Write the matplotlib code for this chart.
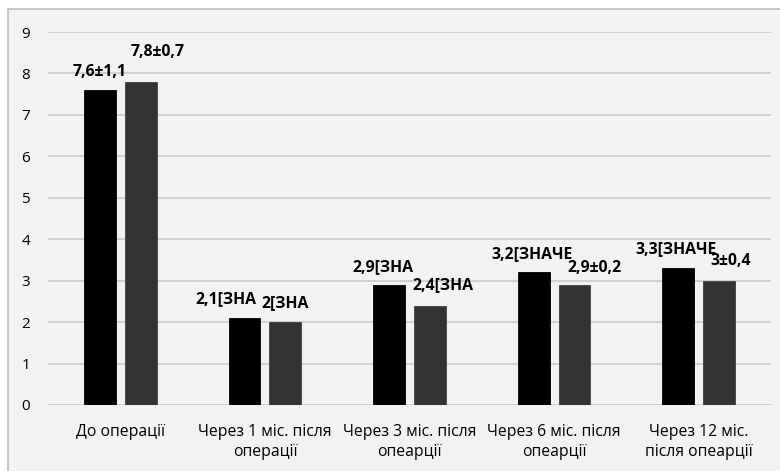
import matplotlib
matplotlib.use("Agg")
import matplotlib.pyplot as plt
import numpy as np
from matplotlib.patches import Rectangle

categories = [
    "До операції",
    "Через 1 міс. після\nоперації",
    "Через 3 міс. після\nопеарції",
    "Через 6 міс. після\nопеарції",
    "Через 12 міс.\nпісля опеарції",
]
series_a = [7.6, 2.1, 2.9, 3.2, 3.3]
series_b = [7.8, 2.0, 2.4, 2.9, 3.0]
labels_a = ["7,6±1,1", "2,1[ЗНА", "2,9[ЗНА", "3,2[ЗНАЧЕ", "3,3[ЗНАЧЕ"]
labels_b = ["7,8±0,7", "2[ЗНА", "2,4[ЗНА", "2,9±0,2", "3±0,4"]
yticks = list(range(0, 10))

# label nudges in pixels (dx, dy above bar top)
offsets_a = [(-0.5, 18), (-18.5, 19), (-6, 18), (-2, 18), (-2.5, 19)]
offsets_b = [(17, 30), (0, 19), (13, 20), (20, 17), (12, 20)]

plt.rcParams["font.family"] = ["Open Sans", "DejaVu Sans"]

bg = "#f2f2f2"
fig = plt.figure(figsize=(7.8, 4.71), dpi=100, facecolor="white")
fig.patches.append(Rectangle((8 / 780, -0.1), 1.2, 1 - 9 / 471 + 0.1,
                             transform=fig.transFigure, facecolor=bg,
                             edgecolor="#bfbfbf", linewidth=1.2, zorder=-10))

ax = fig.add_axes([48 / 780, 1 - 405 / 471, (771 - 48) / 780, (405 - 32) / 471])
ax.set_facecolor(bg)

x = np.arange(len(categories))
w = 0.22
d = 0.141
bars_a = ax.bar(x - d, series_a, w, color="#000000", edgecolor="#000000",
                linewidth=0.6, zorder=3)
bars_b = ax.bar(x + d, series_b, w, color="#333333", edgecolor="#404040",
                linewidth=0.6, zorder=3)

for bars, labels, offs in ((bars_a, labels_a, offsets_a), (bars_b, labels_b, offsets_b)):
    for b, lab, (dx, dy) in zip(bars, labels, offs):
        ax.annotate(lab, (b.get_x() + b.get_width() / 2, b.get_height()),
                    xytext=(dx, dy), textcoords="offset pixels",
                    ha="center", va="center", fontsize=11.3,
                    fontweight="bold", color="black", zorder=5)

ax.set_xlim(-0.5, len(categories) - 0.5)
ax.set_ylim(0, 9)
ax.set_yticks(yticks)
ax.set_xticks(x)
ax.set_xticklabels(categories, fontsize=11.3, linespacing=1.3, va="top")
ax.tick_params(axis="y", length=0, pad=16, labelsize=11)
ax.tick_params(axis="x", length=0, pad=14)
for lab in ax.get_yticklabels():
    lab.set_horizontalalignment("center")
ax.grid(axis="y", color="#c6c6c6", linewidth=1.1, zorder=1)
for s in ax.spines.values():
    s.set_visible(False)

fig.savefig("out.png", dpi=100, facecolor="white")
